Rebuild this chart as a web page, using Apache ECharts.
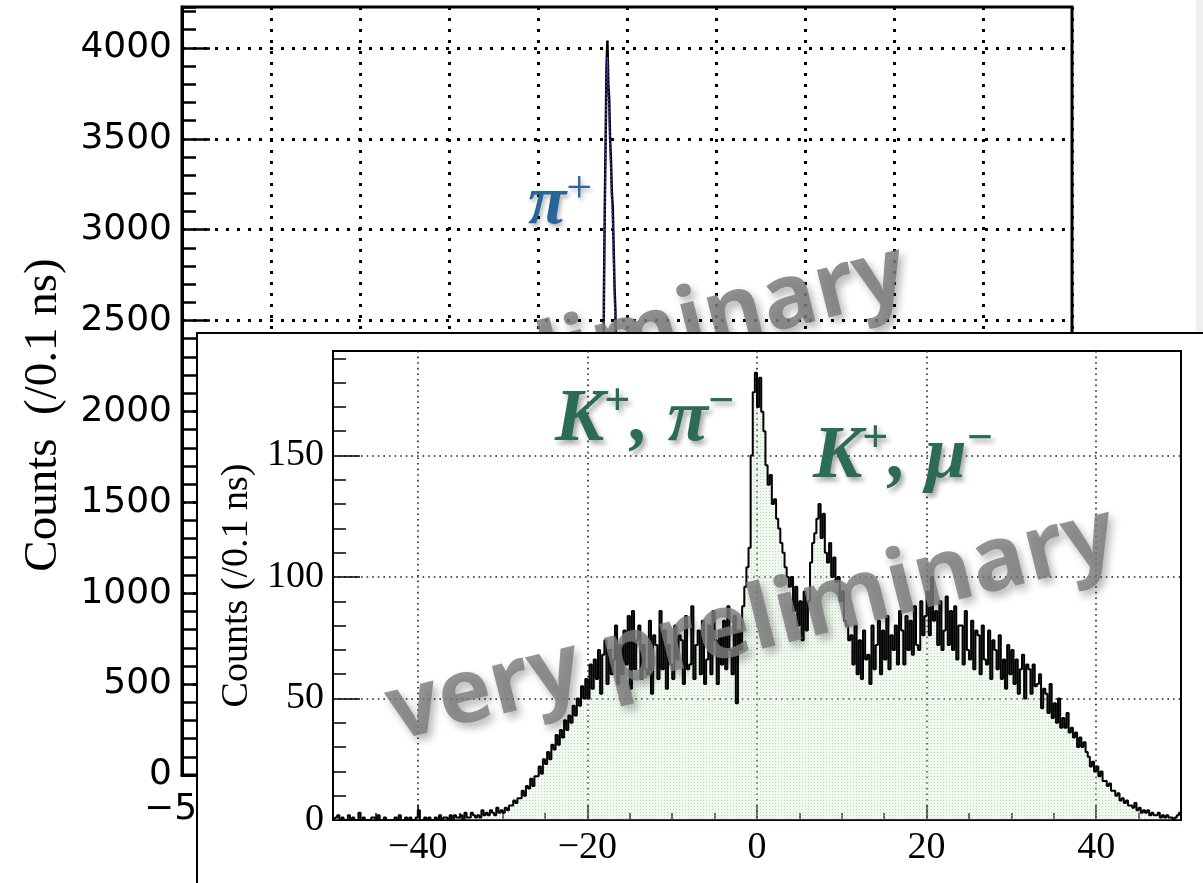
<!DOCTYPE html>
<html><head><meta charset="utf-8">
<script src="https://cdn.jsdelivr.net/npm/echarts@6/dist/echarts.min.js"></script>
<style>
html,body{margin:0;padding:0;background:#fff;width:1203px;height:883px;overflow:hidden;}
#bg{position:absolute;left:0;top:0;width:1203px;height:883px;}
#insetWrap{position:absolute;left:196px;top:332px;width:1007px;height:551px;background:#fff;border-left:2px solid #000;border-top:2px solid #000;}
#inset{position:absolute;left:0;top:0;width:1007px;height:551px;}
</style></head><body>
<div id="bg"></div>
<div id="insetWrap"><div id="inset"></div></div>
<script>
// ---------------- DATA ----------------
// Background chart (pi+ timing peak), bins of 0.1 ns
const piBinCenters = [-3.05,-2.95,-2.85,-2.75,-2.65,-2.55,-2.45,-2.35,-2.25,-2.15,-2.05,-1.95,-1.85,-1.75,-1.65,-1.55,-1.45,-1.35,-1.25,-1.15,-1.05,-0.95,-0.85,-0.75];
const piCounts      = [0, 30, 120, 500, 1500, 2600, 3100, 3500, 3900, 4040, 3800, 3720, 3500, 3380, 3200, 3124, 2900, 2684, 2550, 2000, 900, 250, 50, 0];
const piCountsDot   = [0, 25, 100, 450, 1400, 2500, 3000, 3400, 3800, 3950, 3720, 3640, 3420, 3300, 3120, 3040, 2820, 2600, 2450, 1900, 820, 220, 40, 0];
const bgXLabels = [-50,-40,-30,-20,-10,0,10,20,30,40,50];
const bgYLabels = [0,500,1000,1500,2000,2500,3000,3500,4000];

// Inset chart (K+ pi- / K+ mu-), bins of 0.25 ns from -50 to 50
const insetXStart = -50;
const insetBinWidth = 0.25;
const insetCounts = [
  0,1,2,0, 1,0,0,2, 0,1,0,0, 3,0,1,0, 0,0,1,1,
  0,2,0,0, 1,0,0,0, 0,1,0,2, 0,0,1,0, 1,0,0,1,
  4,0,0,1, 0,1,0,0, 1,0,2,0, 1,1,0,2, 0,2,1,1,
  2,0,3,1, 1,3,2,1, 2,1,4,2, 3,2,4,3, 2,5,3,4,
  3,5,4,6, 6,8,7,9, 9,12,10,14, 13,17,14,18, 18,22,19,25,
  23,28,25,31, 29,35,31,37, 34,41,37,43, 40,47,43,50, 47,55,50,58,
  50,64,54,66, 58,70,52,68, 74,56,70,60, 66,80,56,72, 60,78,64,84,
  54,86,62,74, 80,58,72,62, 60,82,52,76, 72,58,86,62, 78,54,72,64,
  58,80,66,76, 74,56,84,62, 64,88,58,72, 78,60,82,56, 66,80,60,86,
  74,56,78,64, 82,62,88,70, 60,84,48,78, 70,88,96,104, 112,150,176,184,
  170,182,168,160, 146,138,142,130, 132,124,120,114, 110,104,100,96, 100,86,96,80,
  90,74,94,78, 90,106,114,118, 124,130,116,126, 110,106,114,100, 108,98,100,90,
  94,82,80,74, 76,64,80,60, 74,58,78,66, 68,56,80,62, 72,82,60,78,
  66,84,62,76, 70,80,64,86, 78,64,84,70, 82,68,88,72, 70,90,76,84,
  94,76,100,82, 86,72,90,70, 78,92,72,86, 70,88,66,80, 80,64,86,70,
  66,82,62,78, 76,60,80,66, 64,78,58,74, 70,62,76,58, 66,54,72,60,
  70,56,66,52, 62,68,50,64, 62,52,64,55, 56,60,46,54, 52,44,56,42,
  48,40,50,38, 42,38,44,36, 38,34,36,30, 34,30,32,28, 26,22,24,20,
  22,18,20,16, 16,14,15,12, 12,10,11,8, 9,7,8,6, 6,5,7,4,
  5,3,4,3, 4,2,3,2, 2,3,1,2, 1,2,1,1, 0,1,2,3
];
const insetXLabels = [-40,-20,0,20,40];
const insetYLabels = [0,50,100,150];

// ---------------- HELPERS ----------------
const minus = v => (v < 0 ? '\u2212' + Math.abs(v) : String(v));
const SERIF = '"Liberation Serif","Times New Roman",serif';
const SANS = '"DejaVu Sans",sans-serif';
const GREEN = '#2c6c57';
const BLUE = '#27659a';

// ---------------- BACKGROUND CHART ----------------
const bg = echarts.init(document.getElementById('bg'), null, {renderer:'canvas'});
const dotBig = {color:'#000', width:3, type:[3,8]};
bg.setOption({
  animation:false,
  grid:{left:182, top:7, width:890, height:768, show:true, borderColor:'#000', borderWidth:3, outerBoundsMode:'none', containLabel:false},
  xAxis:[{
    type:'value', min:-50, max:50, interval:10, position:'bottom',
    axisLine:{show:true, onZero:false, lineStyle:{color:'#000', width:3}},
    axisTick:{show:true, inside:true, length:28, lineStyle:{color:'#000', width:2.5}},
    axisLabel:{customValues:bgXLabels, formatter:minus, margin:17, fontFamily:SANS, fontSize:36, color:'#000'},
    splitLine:{show:true, lineStyle:dotBig}
  }],
  yAxis:[{
    type:'value', min:0, max:4225, interval:500, position:'left',
    axisLine:{show:true, onZero:false, lineStyle:{color:'#000', width:3}},
    axisTick:{show:true, inside:true, length:28, customValues:bgYLabels, lineStyle:{color:'#000', width:2.5}},
    axisLabel:{customValues:bgYLabels, formatter:v => String(v), margin:10, fontFamily:SANS, fontSize:36, color:'#000'},
    splitLine:{show:true, lineStyle:dotBig},
    name:'Counts  (/0.1 ns)', nameLocation:'middle', nameGap:115,
    nameTextStyle:{fontFamily:SERIF, fontSize:47, color:'#000', padding:[0,48,0,0]}
  },{
    type:'value', min:0, max:4225, interval:100, position:'left',
    axisLine:{show:false, onZero:false},
    axisTick:{show:true, inside:true, length:14, lineStyle:{color:'#000', width:2.5}},
    axisLabel:{show:false}, splitLine:{show:false}
  }],
  series:[{
    type:'line', xAxisIndex:0, yAxisIndex:0, step:'middle', symbol:'none',
    data: piBinCenters.map((x,i)=>[x, piCounts[i]]),
    lineStyle:{color:'#000', width:2.5}, z:3
  },{
    type:'line', xAxisIndex:0, yAxisIndex:0, step:'middle', symbol:'none',
    data: piBinCenters.map((x,i)=>[x, piCountsDot[i]]),
    lineStyle:{color:'#4a3fbf', width:1.5, type:[2,2]}, z:4
  }],
  graphic:[
    {type:'rect', shape:{x:1196, y:0, width:7, height:333}, style:{fill:'#efefef'}, z:1},
    {type:'text', x:905, y:272, rotation:0.245, z:50, style:{
      text:'preliminary', font:'bold 90px "Open Sans", sans-serif', fill:'rgba(125,125,125,0.85)',
      align:'right', verticalAlign:'middle', textAlign:'right', textVerticalAlign:'middle',
      textShadowColor:'rgba(0,0,0,0.35)', textShadowBlur:8, textShadowOffsetX:4, textShadowOffsetY:5}},
    {type:'text', x:528, y:205, z:60, style:{
      text:'{m|\u03c0}{s|+}', align:'left', verticalAlign:'middle', textAlign:'left', textVerticalAlign:'middle',
      rich:{
        m:{fontSize:70, lineHeight:76, fontFamily:SERIF, fontWeight:'bold', fontStyle:'italic', fill:BLUE, color:BLUE,
           textShadowColor:'rgba(0,0,0,0.3)', textShadowBlur:4, textShadowOffsetX:2, textShadowOffsetY:3},
        s:{fontSize:46, lineHeight:46, verticalAlign:'top', fontFamily:SERIF, fill:BLUE, color:BLUE,
           textShadowColor:'rgba(0,0,0,0.3)', textShadowBlur:4, textShadowOffsetX:2, textShadowOffsetY:3}
      }}}
  ]
});

// ---------------- INSET CHART ----------------
const pc = document.createElement('canvas');
pc.width = 3; pc.height = 3;
const g = pc.getContext('2d');
g.fillStyle = 'rgba(205,235,205,0.28)'; g.fillRect(0,0,3,3);
g.fillStyle = 'rgba(140,200,140,0.6)'; g.fillRect(1,1,1,1);

const inset = echarts.init(document.getElementById('inset'), null, {renderer:'canvas'});
const dotSmall = {color:'#222', width:1.6, type:[1.6,4]};
const greenRich = (size) => ({fontSize:size, lineHeight:size+8, fontFamily:SERIF, fontWeight:'bold', fontStyle:'italic', fill:GREEN, color:GREEN,
  textShadowColor:'rgba(0,0,0,0.35)', textShadowBlur:5, textShadowOffsetX:3, textShadowOffsetY:4});
const greenSup = {fontSize:46, lineHeight:46, verticalAlign:'top', fontFamily:SERIF, fontWeight:'bold', fill:GREEN, color:GREEN,
  textShadowColor:'rgba(0,0,0,0.35)', textShadowBlur:5, textShadowOffsetX:3, textShadowOffsetY:4};
inset.setOption({
  animation:false,
  grid:{left:135, top:17, width:848, height:469, show:true, borderColor:'#000', borderWidth:2, outerBoundsMode:'none', containLabel:false},
  xAxis:[{
    type:'value', min:-50, max:50, splitNumber:5, position:'bottom',
    axisLine:{show:true, onZero:false, lineStyle:{color:'#000', width:2}},
    axisTick:{show:true, inside:true, length:15, customValues:insetXLabels, lineStyle:{color:'#000', width:1.5}},
    axisLabel:{customValues:insetXLabels, formatter:minus, margin:9, fontFamily:SERIF, fontSize:38, color:'#000'},
    splitLine:{show:true, lineStyle:dotSmall}
  },{
    type:'value', min:-50, max:50, interval:5, position:'bottom',
    axisLine:{show:false, onZero:false},
    axisTick:{show:true, inside:true, length:7, lineStyle:{color:'#000', width:1.5}},
    axisLabel:{show:false}, splitLine:{show:false}
  }],
  yAxis:[{
    type:'value', min:0, max:193, interval:50, position:'left',
    axisLine:{show:true, onZero:false, lineStyle:{color:'#000', width:2}},
    axisTick:{show:true, inside:true, length:27, customValues:insetYLabels, lineStyle:{color:'#000', width:1.5}},
    axisLabel:{customValues:insetYLabels, margin:9, fontFamily:SERIF, fontSize:38, color:'#000'},
    splitLine:{show:true, lineStyle:dotSmall},
    name:'Counts (/0.1 ns)', nameLocation:'middle', nameGap:74,
    nameTextStyle:{fontFamily:SERIF, fontSize:38, color:'#000'}
  },{
    type:'value', min:0, max:193, interval:10, position:'left',
    axisLine:{show:false, onZero:false},
    axisTick:{show:true, inside:true, length:13, lineStyle:{color:'#000', width:1.5}},
    axisLabel:{show:false}, splitLine:{show:false}
  }],
  series:[{
    type:'line', xAxisIndex:0, yAxisIndex:0, step:'middle', symbol:'none',
    data: insetCounts.map((c,i)=>[insetXStart + insetBinWidth*(i+0.5), c]),
    lineStyle:{color:'#000', width:2},
    areaStyle:{color:{image:pc, repeat:'repeat'}, opacity:1},
    z:3
  }],
  graphic:[
    {type:'text', x:554, y:291, rotation:0.245, z:100, style:{
      text:'very preliminary', font:'bold 90px "Open Sans", sans-serif', fill:'rgba(125,125,125,0.82)',
      align:'center', verticalAlign:'middle', textAlign:'center', textVerticalAlign:'middle',
      textShadowColor:'rgba(0,0,0,0.35)', textShadowBlur:8, textShadowOffsetX:4, textShadowOffsetY:5}},
    {type:'text', x:357, y:87, z:110, style:{
      text:'{m|K}{s|+}{m|, \u03c0}{s|\u2212}', align:'left', verticalAlign:'middle', textAlign:'left', textVerticalAlign:'middle',
      rich:{m:greenRich(74), s:greenSup}}},
    {type:'text', x:615, y:124, z:110, style:{
      text:'{m|K}{s|+}{m|, \u03bc}{s|\u2212}', align:'left', verticalAlign:'middle', textAlign:'left', textVerticalAlign:'middle',
      rich:{m:greenRich(74), s:greenSup}}}
  ]
});
</script></body></html>
